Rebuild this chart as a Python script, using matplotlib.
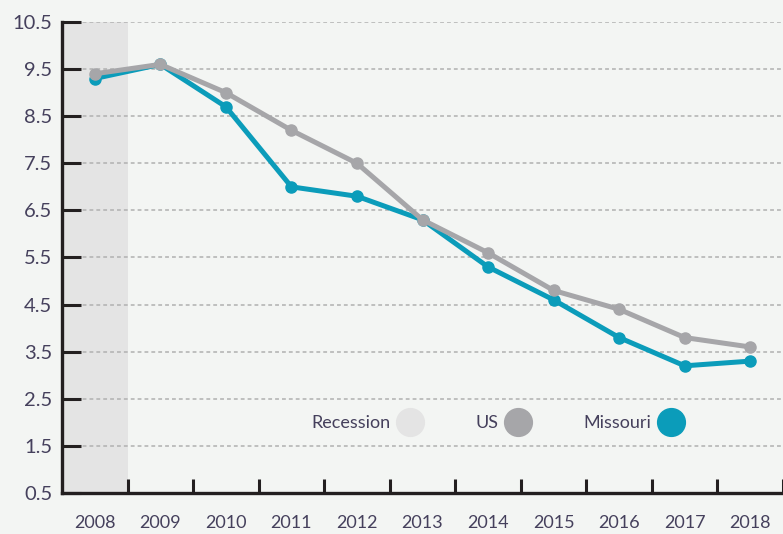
import matplotlib.pyplot as plt
from matplotlib.lines import Line2D

# data
years = ['2008', '2009', '2010', '2011', '2012', '2013', '2014', '2015', '2016', '2017', '2018']
us = [9.4, 9.6, 9.0, 8.2, 7.5, 6.3, 5.6, 4.8, 4.4, 3.8, 3.6]
missouri = [9.3, 9.6, 8.7, 7.0, 6.8, 6.3, 5.3, 4.6, 3.8, 3.2, 3.3]
yticks = [0.5, 1.5, 2.5, 3.5, 4.5, 5.5, 6.5, 7.5, 8.5, 9.5, 10.5]

bg = '#f3f5f3'
teal = '#0b9cba'
grey = '#a6a6a9'
rec = '#e4e4e4'
txt = '#45405c'
dark = '#231f20'

plt.rcParams['font.family'] = ['Lato', 'Open Sans', 'DejaVu Sans']

fig = plt.figure(figsize=(7.83, 5.34), dpi=100, facecolor=bg)
ax = fig.add_axes([0.0792, 0.0768, 0.9208, 0.882])
ax.set_facecolor(bg)

x = list(range(len(years)))
ax.axvspan(-0.5, 0.5, color=rec, zorder=0, lw=0)

ax.plot(x, missouri, color=teal, lw=3.6, marker='o', ms=8, zorder=3, solid_joinstyle='round')
ax.plot(x, us, color=grey, lw=3.6, marker='o', ms=8, zorder=4, solid_joinstyle='round')

ax.set_xlim(-0.5, 10.5)
ax.set_ylim(0.5, 10.5)
ax.set_yticks(yticks)
ax.set_yticklabels(['%.1f' % v for v in yticks])
ax.set_xticks(x)
ax.set_xticklabels(years)
ax.set_xticks([i + 0.5 for i in x], minor=True)

ax.yaxis.grid(True, color='#b0b0b0', lw=1.1, linestyle=(0, (2.5, 2)), zorder=1)
ax.set_axisbelow(True)

for s in ['top', 'right']:
    ax.spines[s].set_visible(False)
for s in ['left', 'bottom']:
    ax.spines[s].set_color(dark)
    ax.spines[s].set_linewidth(2.4)
    ax.spines[s].set_zorder(5)

ax.tick_params(axis='y', direction='in', length=14, width=2.2, color=dark,
               labelsize=14.5, labelcolor=txt, pad=7)
ax.tick_params(axis='x', which='major', length=0, labelsize=13, labelcolor=txt, pad=16)
ax.tick_params(axis='x', which='minor', direction='in', length=10, width=2.2, color=dark)

handles = [Line2D([], [], ls='', marker='o', ms=20, color=rec),
           Line2D([], [], ls='', marker='o', ms=20, color=grey),
           Line2D([], [], ls='', marker='o', ms=20, color=teal)]
leg = ax.legend(handles, ['Recession', 'US', 'Missouri'], ncol=3, markerfirst=False,
                frameon=False, loc='center', bbox_to_anchor=(0.609, 0.148),
                fontsize=13, columnspacing=2.5, handletextpad=0.0, handlelength=2.2)
for t in leg.get_texts():
    t.set_color(txt)

plt.savefig('out.png', dpi=100, facecolor=bg)
